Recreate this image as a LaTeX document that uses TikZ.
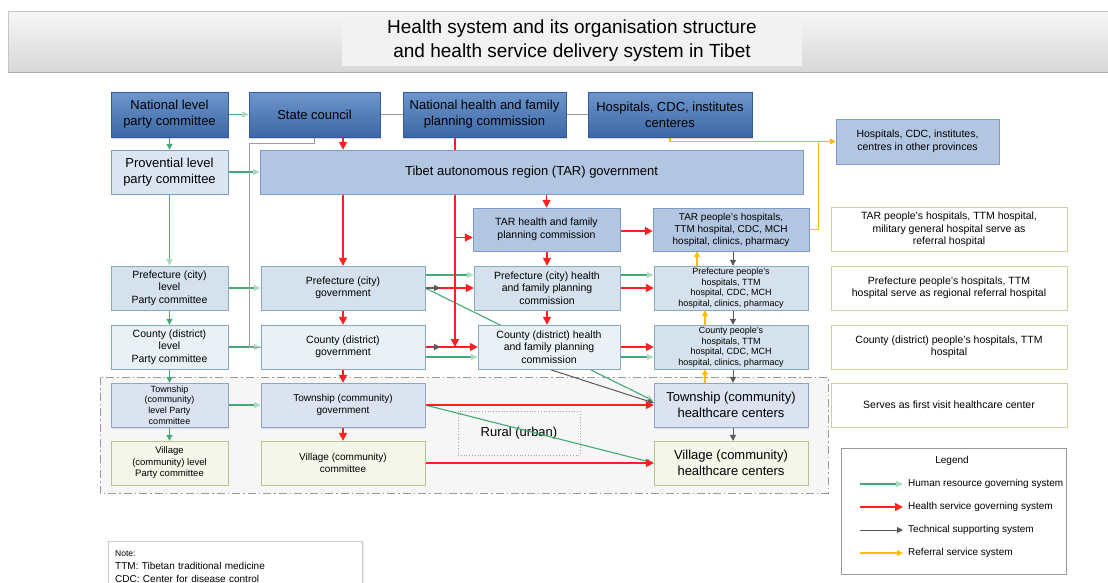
\documentclass[tikz,border=0pt]{standalone}
\usepackage{fontspec}
\setmainfont{Liberation Sans}
\usetikzlibrary{arrows.meta,shadows}

\definecolor{hrgreen}{HTML}{45A877}
\definecolor{hrtip}{HTML}{A9DCC1}
\definecolor{hsred}{HTML}{FF2020}
\definecolor{techgray}{HTML}{5A5A5A}
\definecolor{refyellow}{HTML}{FFBE00}
\definecolor{toptop}{HTML}{6E96CC}
\definecolor{topbot}{HTML}{3D67A6}
\definecolor{topedge}{HTML}{34599A}
\definecolor{tarfill}{HTML}{B2C6E2}
\definecolor{taredge}{HTML}{7C9CC7}
\definecolor{provfill}{HTML}{DCE6F3}
\definecolor{preffill}{HTML}{D5E1ED}
\definecolor{prefedge}{HTML}{86AABB}
\definecolor{countyfill}{HTML}{EAF1F6}
\definecolor{townfill}{HTML}{DAE3EF}
\definecolor{townedge}{HTML}{8FA5C3}
\definecolor{villfill}{HTML}{F4F6E9}
\definecolor{villedge}{HTML}{B5C58E}
\definecolor{descedge}{HTML}{C4D79B}
\definecolor{titletop}{HTML}{F6F6F6}
\definecolor{titlebot}{HTML}{D8D8D8}

\pgfdeclarelayer{back}
\pgfdeclarelayer{edges}
\pgfsetlayers{back,edges,main}

\begin{document}
\begin{tikzpicture}[x=1pt,y=-1pt,
	every node/.style={align=center, inner sep=1pt},
	bigtext/.style={font=\fontsize{13}{16}\selectfont},
	midtext/.style={font=\fontsize{10.5}{12.5}\selectfont},
	smalltext/.style={font=\fontsize{9}{10.5}\selectfont},
	legtext/.style={font=\fontsize{10}{12}\selectfont},
	topbox/.style={draw=topedge, top color=toptop, bottom color=topbot, minimum height=45pt, bigtext,
		drop shadow={opacity=.3, shadow xshift=1pt, shadow yshift=-1.5pt}},
	tarbox/.style={draw=taredge, fill=tarfill, minimum height=43pt, midtext},
	provbox/.style={draw=taredge, fill=provfill, minimum height=44pt, bigtext},
	prefbox/.style={draw=prefedge, fill=preffill, minimum height=44pt, midtext},
	countybox/.style={draw=prefedge, fill=countyfill, minimum height=44pt, midtext},
	townbox/.style={draw=townedge, fill=townfill, minimum height=44pt, midtext,
		drop shadow={opacity=.2, shadow xshift=1pt, shadow yshift=-1.5pt}},
	villbox/.style={draw=villedge, fill=villfill, minimum height=44pt, midtext},
	descbox/.style={draw=descedge, line width=.8pt, fill=white, minimum width=236pt, minimum height=44pt, midtext},
	hrline/.style={draw=hrgreen, line width=1.1pt, -{Triangle[length=7pt,width=6pt,color=hrtip]}},
	hrshort/.style={hrline, -{Triangle[length=6pt,width=6pt,color=hrgreen]}},
	hsline/.style={color=hsred, line width=1.6pt, -{Triangle[length=8pt,width=8pt]}},
	techline/.style={draw=techgray, line width=1pt, -{Triangle[length=6pt,width=6pt]}},
	techplain/.style={draw=gray!75, line width=1pt},
	refline/.style={draw=refyellow, line width=1.3pt, -{Triangle[length=6pt,width=6pt]}},
	refplain/.style={draw=refyellow, line width=1.3pt}]
	\def\xa{169.5}	%party committees
	\def\xb{343}	%governments
	\def\xc{547}	%health and family planning commissions
	\def\xd{731}	%hospitals
	\def\xe{949}	%descriptions on the right
	\def\ya{114.5}	%national row
	\def\yb{172}	%regional row
	\def\yc{229.5}	%TAR commission row
	\def\yd{288}	%prefecture row
	\def\ye{347}	%county row
	\def\yf{405}	%township row
	\def\yg{463}	%village row
	\useasboundingbox (0,0) rectangle (1108,582);

	\begin{pgfonlayer}{back}
	\shade[top color=titletop, bottom color=titlebot, draw=gray!45] (8,11) rectangle (1112,72);	%title band
	\draw[gray!65, line width=1.2pt] (8,72.5) -- (1108,72.5);
	\draw[gray!80, line width=.8pt, fill=gray!7, dash pattern=on 8pt off 3pt on 1.5pt off 3pt] (100,377) rectangle (828,493);	%rural area
	\node[draw=gray!70, dotted, line width=.8pt, minimum width=122pt, minimum height=44pt, bigtext] (rural) at (519,433) {Rural (urban)};
	\end{pgfonlayer}

	\node[fill=gray!10, inner xsep=45pt, inner ysep=4pt, font=\fontsize{19}{24}\selectfont] (title) at (572,41) {Health system and its organisation structure\\and health service delivery system in Tibet};

	%national level
	\node[topbox, minimum width=117pt] (natparty) at (\xa,\ya) {National level\\party committee};
	\node[topbox, minimum width=131pt] (state) at (314.5,\ya) {State council};
	\node[topbox, minimum width=163pt] (nhfpc) at (484.5,\ya) {National health and family\\planning commission};
	\node[topbox, minimum width=164pt] (hosp) at (670,\ya) {Hospitals, CDC, institutes\\centeres};
	\node[tarbox, minimum width=163pt, minimum height=45pt] (other) at (917.5,141.5) {Hospitals, CDC, institutes,\\centres in other provinces};

	%regional level
	\node[provbox, minimum width=117pt] (provparty) at (\xa,\yb) {Provential level\\party committee};
	\node[tarbox, minimum width=543pt, minimum height=44pt, bigtext] (targov) at (531.5,\yb) {Tibet autonomous region (TAR) government};
	\node[tarbox, minimum width=147pt] (tarhfpc) at (546.5,\yc) {TAR health and family\\planning commission};
	\node[tarbox, minimum width=156pt, font=\fontsize{10}{12}\selectfont] (tarhosp) at (\xd,\yc) {TAR people's hospitals,\\TTM hospital, CDC, MCH\\hospital, clinics, pharmacy};
	\node[descbox] (desca) at (\xe,\yc) {TAR people's hospitals, TTM hospital,\\military general hospital serve as\\referral hospital};

	%prefecture level
	\node[prefbox, minimum width=117pt] (prefparty) at (\xa,\yd) {Prefecture (city)\\level\\Party committee};
	\node[prefbox, minimum width=164pt] (prefgov) at (\xb,\yd) {Prefecture (city)\\government};
	\node[prefbox, minimum width=146pt] (prefhfpc) at (\xc,\yd) {Prefecture (city) health\\and family planning\\commission};
	\node[prefbox, minimum width=154pt, smalltext] (prefhosp) at (\xd,\yd) {Prefecture people's\\hospitals, TTM\\hospital, CDC, MCH\\hospital, clinics, pharmacy};
	\node[descbox] (descb) at (\xe,\yd) {Prefecture people's hospitals, TTM\\hospital serve as regional referral hospital};

	%county level
	\node[countybox, minimum width=117pt] (countyparty) at (\xa,\ye) {County (district)\\level\\Party committee};
	\node[countybox, minimum width=164pt] (countygov) at (\xb,\ye) {County (district)\\government};
	\node[countybox, minimum width=142pt] (countyhfpc) at (549,\ye) {County (district) health\\and family planning\\commission};
	\node[prefbox, minimum width=154pt, smalltext] (countyhosp) at (\xd,\ye) {County people's\\hospitals, TTM\\hospital, CDC, MCH\\hospital, clinics, pharmacy};
	\node[descbox] (descc) at (\xe,\ye) {County (district) people's hospitals, TTM\\hospital};

	%township and village level
	\node[townbox, minimum width=117pt, font=\fontsize{9}{10.8}\selectfont] (townparty) at (\xa,\yf) {Township\\(community)\\level Party\\committee};
	\node[townbox, minimum width=164pt, font=\fontsize{10}{12.5}\selectfont] (towngov) at (\xb,\yf) {Township (community)\\government};
	\node[townbox, minimum width=154pt, bigtext] (townhc) at (\xd,\yf) {Township (community)\\healthcare centers};
	\node[descbox] (descd) at (\xe,\yf) {Serves as first visit healthcare center};
	\node[villbox, minimum width=117pt, font=\fontsize{9.5}{11.5}\selectfont] (villparty) at (\xa,\yg) {Village\\(community) level\\Party committee};
	\node[villbox, minimum width=164pt, font=\fontsize{10}{12.5}\selectfont] (villcomm) at (\xb,\yg) {Village (community)\\committee};
	\node[villbox, minimum width=154pt, bigtext] (villhc) at (\xd,\yg) {Village (community)\\healthcare centers};

	%legend and note
	\node[draw=gray!80, fill=white, minimum width=225pt, minimum height=126pt] (legend) at (953.5,511) {};
	\node[legtext] (legtitle) at (952,461) {Legend};
	\foreach \st/\txt [count=\i] in {hrline/Human resource governing system, hsline/Health service governing system, techline/Technical supporting system, refline/Referral service system}{
		\node[legtext, anchor=west] (leg\i) at (907,{461+\i*23}) {\txt};
		\draw[\st] ([xshift=-47pt]leg\i.west) -- ([xshift=-4pt]leg\i.west);
	}
	\node[draw=gray!40, fill=white, anchor=north west, text width=240pt, align=left, inner xsep=7pt, inner ysep=3pt,
		minimum height=50pt, font=\fontsize{10}{13}\selectfont,
		drop shadow={opacity=.15, shadow xshift=1.5pt, shadow yshift=-1pt}] (note) at (108,541)
		{{\fontsize{8.5}{10}\selectfont Note:}\\TTM: Tibetan traditional medicine\\CDC: Center for disease control};

	\begin{pgfonlayer}{edges}
	%human resource governing system
	\draw[hrline] (natparty) -- (state);
	\draw[hrline] (provparty) -- (targov);
	\draw[hrline] (prefparty) -- (prefgov);
	\draw[hrline] (countyparty) -- (countygov);
	\draw[hrline] (townparty) -- (towngov);
	\draw[hrline] (provparty) -- (prefparty);
	\draw[hrshort] (natparty) -- (provparty);
	\draw[hrshort] (prefparty) -- (countyparty);
	\draw[hrshort] (countyparty) -- (townparty);
	\draw[hrshort] (townparty) -- (villparty);
	\draw[hrline] ([yshift=13pt]prefgov.east) -- ([yshift=13pt]prefhfpc.west);
	\draw[hrline] ([yshift=13pt]prefhfpc.east) -- ([yshift=13pt]prefhosp.west);
	\draw[hrline] ([yshift=-10pt]countygov.east) -- ([yshift=-10pt]countyhfpc.west);
	\draw[hrline] ([yshift=-10pt]countyhfpc.east) -- ([yshift=-10pt]countyhosp.west);
	\draw[hrline] (prefgov.east) -- ([yshift=4pt]townhc.west);	%passes behind the county commission
	\draw[hrline] (towngov.east) -- (villhc.west);

	%technical supporting system
	\draw[techplain] (state) -- (nhfpc);
	\draw[techplain] (nhfpc) -- (hosp);
	\draw[techplain] (state.south) -- ++(0,6) -| ([xshift=-11pt]countygov.west) -- (countygov.west);
	\draw[techline] ([xshift=2pt]tarhosp.south) -- ([xshift=2pt]prefhosp.north);
	\draw[techline] ([xshift=2pt]prefhosp.south) -- ([xshift=2pt]countyhosp.north);
	\draw[techline] ([xshift=2pt]countyhosp.south) -- ([xshift=2pt]townhc.north);
	\draw[techline] ([xshift=2pt]townhc.south) -- ([xshift=2pt]villhc.north);
	\draw[techline] (countyhfpc.south) -- ([yshift=2pt]townhc.west);

	%health service governing system
	\draw[hsline] (state.south -| prefgov) -- (prefgov |- targov.north);
	\draw[hsline] (prefgov |- targov.south) -- (prefgov);
	\draw[hsline] (prefgov) -- (countygov);
	\draw[hsline] (countygov) -- (towngov);
	\draw[hsline] (towngov) -- (villcomm);
	\draw[hsline] (tarhfpc |- targov.south) -- (tarhfpc);
	\draw[hsline, line width=1.8pt] ([yshift=-1.5pt]tarhfpc.east) -- ([yshift=-1.5pt]tarhosp.west);
	\draw[hsline] (prefhfpc |- tarhfpc.south) -- (prefhfpc);
	\draw[hsline] (prefhfpc) -- (prefhfpc |- countyhfpc.north);
	\draw[hsline] (prefgov) -- (prefhfpc);
	\draw[hsline] (prefhfpc) -- (prefhosp);
	\draw[hsline] (countygov) -- (countyhfpc);
	\draw[hsline] (countyhfpc) -- (countyhosp);
	\draw[hsline] (towngov) -- (townhc);
	\draw[hsline] (villcomm) -- (villhc);
	\coordinate (nhdrop) at ([xshift=-29.5pt]nhfpc.south);
	\coordinate (tarin) at ([yshift=-8pt]tarhfpc.west);
	\draw[hsline] (nhdrop) -- (nhdrop |- countygov.east);
	\draw[hsline] (nhdrop |- tarin) -- (tarin);
	\draw[techline] (prefgov.east) -- ++(15,0);	%small grey tips on the red lines
	\draw[techline] (countygov.east) -- ++(15,0);

	%referral service system
	\draw[refline] (hosp.south) |- (other.west);
	\draw[refplain] ([xshift=-17pt]other.west) |- (tarhosp.east);
	\draw[refline] ([xshift=-34pt]prefhosp.north) -- ([xshift=-34pt]tarhosp.south);
	\draw[refline] ([xshift=-26pt]countyhosp.north) -- ([xshift=-26pt]prefhosp.south);
	\draw[refline] ([xshift=-26pt]townhc.north) -- ([xshift=-26pt]countyhosp.south);
	\end{pgfonlayer}
\end{tikzpicture}
\end{document}
